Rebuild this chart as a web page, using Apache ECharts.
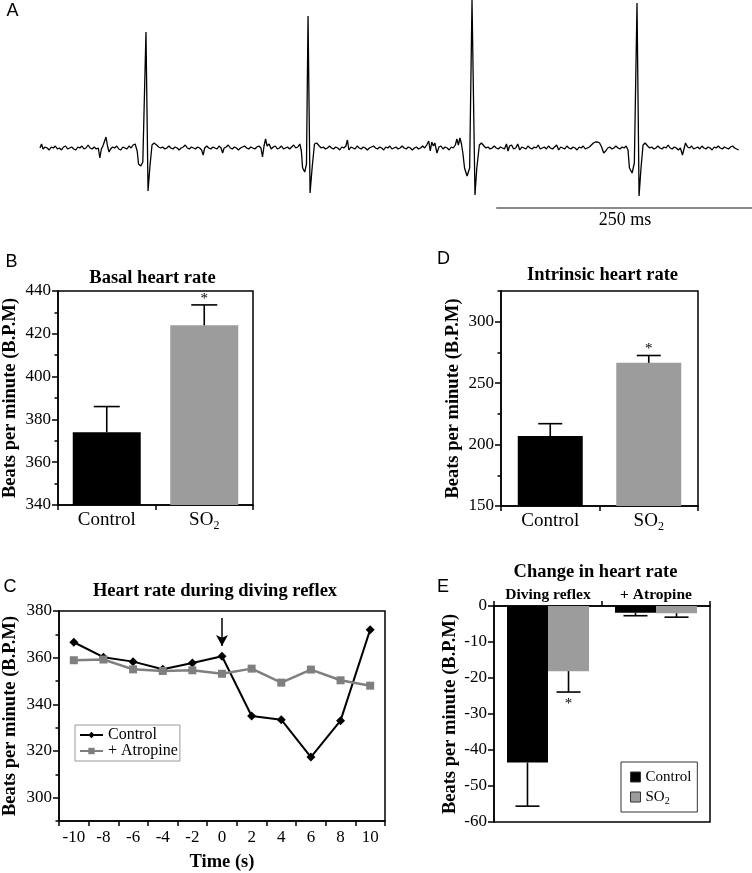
<!DOCTYPE html>
<html>
<head>
<meta charset="utf-8">
<script src="https://cdn.jsdelivr.net/npm/echarts@6.0.0/dist/echarts.min.js"></script>
<style>
html,body{margin:0;padding:0;background:#fff;}
#chart{width:752px;height:873px;}
</style>
</head>
<body>
<div id="chart"></div>
<script>
// ---------- DATA ----------
// Panel A: ECG trace, [time (ms), amplitude (a.u.)]
const ecgTrace = [
[0,0],[1.5,4],[3,-1],[5,1],[7,0],[9,-2],[11,1],[13,0],[15,2],[17,-1],[19,0],[21,-2],[23,1],[25,2],[27,-1],[29,0],[31,1],[33,-1],[35,-2],[37,1],[39,0],[41,2],[43,-1],[45,0],[47,3],[49,0],[51,-1],[53,1],[55,-1],[57,0],[58.5,-10],[60,-1],[61.5,2],[63,1],[64.5,11],[66,2],[67.5,-4],[69,-1],[71,1],[73,0],[75,2],[77,-1],[79,-2],[81,1],[83,0],[85,-1],[87,2],[89,0],[91,3],[93,4],
[95,-3],[96.3,-16],[98.5,-18],[100.5,-14],[103.6,116],[105.6,-43],[107.5,-18],[109.5,3],[111.5,5],[114,3],[116,1],
[118,0],[120,1],[122,-1],[124,0],[126,2],[128,0],[130,-1],[132,1],[134,0],[136,-2],[138,0],[140,1],[142,3],[144,0],[146,-1],[148,1],[150,0],[152,-1],[154,1],[156,0],[158,-2],[159.5,-7],[161,0],[163,2],[165,0],[167,-1],[169,1],[171,0],[173,-1],[175,2],[177,0],[178.5,-5],[180,0],[182,1],[184,3],[186,0],[188,-1],[190,1],[192,0],[194,-2],[196,0],[198,1],[200,2],[202,0],[204,-1],[206,1],[208,0],[210,-1],[212,1],[214,2],[216,0],[217.5,-9],[219,2],[220.5,9],[222,2],[224,4],[226,-1],[228,1],[230,2],[232,-1],[234,0],[236,2],[238,-1],[240,0],[242,1],[244,-1],[246,1],[248,3],[250,0],[252,1],[254,4],
[255.5,-3],[256.7,-20],[258.8,-24],[260.5,-16],[262,132],[264,-45],[266,-20],[268.3,4],[270.5,5],[273,2],[275,0],
[277,1],[279,-1],[281,0],[283,2],[285,0],[287,-1],[289,1],[291,0],[293,-2],[295,1],[297,0],[299,2],[300.5,8],[302,-2],[304,1],[306,0],[308,-1],[310,2],[312,0],[314,-1],[316,1],[318,0],[320,-2],[322,0],[324,1],[326,2],[328,0],[330,-1],[332,1],[334,0],[336,-2],[338,1],[340,0],[342,2],[344,-1],[346,0],[348,1],[350,-1],[352,0],[354,2],[356,0],[358,-1],[360,1],[362,0],[364,-2],[366,0],[368,1],[370,-1],[372,0],[374,2],[376,0],[378,3],[380,7],[381.5,-3],[383,6],[384.5,2],[386,5],[388,-5],[390,1],[392,2],[394,-1],[396,1],[398,0],[400,-2],[402,1],[404,0],[406,3],[407.5,9],[409,3],[410.5,10],[412,4],
[413.5,-6],[415,-20],[417.5,-28],[420,-20],[422.3,148],[425.2,-47],[427,-20],[429.5,3],[431.5,5],[434,2],[436,0],
[438,1],[440,-1],[442,0],[444,2],[446,0],[448,-1],[450,1],[452,0],[454,-1],[456,4],[457.5,-3],[459,2],[461,3],[463,-1],[465,0],[467,4],[469,-2],[471,1],[473,0],[475,-1],[477,2],[479,0],[481,-1],[483,1],[485,0],[487,3],[489,-1],[491,0],[493,1],[495,-1],[497,2],[499,0],[501,-1],[503,1],[505,3],[507,-2],[509,1],[511,0],[513,-1],[515,2],[517,0],[519,-1],[521,1],[523,0],[525,-2],[527,1],[529,0],[531,2],[533,-1],[535,0],[537,1],[539,3],[541,5],[543,6],[545,6],[547,5],[549,1],[551,-5],[553,-3],[555,0],[557,1],[559,-1],[561,0],[563,2],[565,0],[567,-1],[569,1],[571,0],[573,2],
[574.8,-2],[576.2,-20],[578.8,-25],[581,-15],[583.6,145],[585.6,-48],[587.5,-20],[589.5,3],[591.5,5],[594,2],[596,0],
[598,1],[600,-1],[602,0],[604,2],[606,0],[608,-1],[610,1],[612,0],[614,3],[616,0],[618,-1],[620,1],[622,0],[624,-2],[626,0],[628,-7],[629.5,-1],[631,5],[633,1],[635,0],[637,2],[639,-1],[641,0],[643,1],[645,-1],[647,2],[649,0],[651,-1],[653,1],[655,0],[657,-2],[659,1],[661,0],[663,2],[665,0],[667,-1],[669,1],[671,0],[673,-1],[675,1],[677,2],[679,0],[681,-1],[683,-2]
];
const scaleBarMs = [446, 696];      // 250 ms scale bar
const scaleBarLevel = -60;

// Panel B: basal heart rate
const groups = ['Control', 'SO2'];
const basalMean = [374, 424];
const basalSem = [12, 9.5];
const basalSig = [0, 1];
const basalTicks = [340, 360, 380, 400, 420, 440];

// Panel D: intrinsic heart rate
const intrinsicMean = [207, 266.5];
const intrinsicSem = [10, 6];
const intrinsicSig = [0, 1];
const intrinsicTicks = [150, 200, 250, 300];

// Panel C: heart rate during diving reflex
const times = ['-10', '-8', '-6', '-4', '-2', '0', '2', '4', '6', '8', '10'];
const diveControl = [366.6, 360.2, 358.3, 355, 357.7, 360.6, 335, 333.4, 317.4, 333, 372];
const diveAtropine = [358.9, 359.2, 355, 354.3, 354.6, 353.1, 355.3, 349.3, 354.9, 350.3, 348];
const diveTicks = [300, 320, 340, 360, 380];
const arrowTime = '0', arrowFrom = 377, arrowTo = 365;

// Panel E: change in heart rate
const conditions = ['Diving reflex', '+ Atropine'];
const changeControl = [-43.5, -1.9];
const changeControlSem = [12.1, 0.8];
const changeSO2 = [-18.1, -2.0];
const changeSO2Sem = [5.8, 1.1];
const changeSO2Sig = [1, 0];
const changeTicks = [-60, -50, -40, -30, -20, -10, 0];

// ---------- STYLE HELPERS ----------
const SERIF = '"Liberation Serif", "Times New Roman", serif';
const SANS = '"Liberation Sans", Arial, sans-serif';
const GRAY = '#9c9c9c';
const grayStyle = {color: GRAY};
const chart = echarts.init(document.getElementById('chart'), null, {renderer: 'canvas'});

const subRich = {s: {fontFamily: SERIF, fontSize: 12, lineHeight: 24, verticalAlign: 'bottom', color: '#000'}};
function soFmt(v) { return v === 'SO2' ? 'SO{s|2}' : v; }

function catAxis(grid, data, extra) {
  return Object.assign({
    type: 'category', gridIndex: grid, data: data,
    axisLine: {show: true, onZero: false, lineStyle: {color: '#000', width: 1.5}},
    axisTick: {show: true, length: 5, lineStyle: {color: '#000', width: 1.5}},
    axisLabel: {color: '#000', fontFamily: SERIF, fontSize: 19, margin: 3, lineHeight: 24, interval: 0, formatter: soFmt, rich: subRich},
    splitLine: {show: false}
  }, extra || {});
}
function yMajor(grid, min, max, ticks, gap) {
  return {
    type: 'value', gridIndex: grid, min: min, max: max, position: 'left',
    name: 'Beats per minute (B.P.M)', nameLocation: 'middle', nameGap: gap, nameRotate: 90,
    nameTextStyle: {fontFamily: SERIF, fontWeight: 'bold', fontSize: 18.5, color: '#000'},
    axisLine: {show: true, lineStyle: {color: '#000', width: 1.5}},
    axisTick: {show: true, length: 6, customValues: ticks, lineStyle: {color: '#000', width: 1.5}},
    axisLabel: {customValues: ticks, margin: 7, fontFamily: SERIF, fontSize: 17, color: '#000'},
    splitLine: {show: false}
  };
}
function yMinor(grid, min, max, interval) {
  return {
    type: 'value', gridIndex: grid, min: min, max: max, interval: interval, position: 'left',
    axisLine: {show: false}, axisLabel: {show: false}, splitLine: {show: false},
    axisTick: {show: true, length: 3.5, lineStyle: {color: '#000', width: 1.5}}
  };
}
function errorBars(xi, yi, means, sems, dir, sig, offset, cap, starDy) {
  return {
    type: 'custom', xAxisIndex: xi, yAxisIndex: yi, z: 5, silent: true,
    encode: {x: 0, y: 1},
    data: means.map((m, i) => [i, m, m + dir * sems[i], sig[i]]),
    renderItem: function (params, api) {
      const i = api.value(0), m = api.value(1), e = api.value(2), s = api.value(3);
      const band = api.size([1, 0])[0];
      const b = api.coord([i, m]), t = api.coord([i, e]);
      const cx = b[0] + offset * band;
      const ls = {stroke: '#000', lineWidth: 1.6};
      const children = [
        {type: 'line', shape: {x1: cx, y1: b[1], x2: cx, y2: t[1]}, style: ls},
        {type: 'line', shape: {x1: cx - cap, y1: t[1], x2: cx + cap, y2: t[1]}, style: ls}
      ];
      if (s) children.push({type: 'text', x: cx, y: t[1] + starDy,
        style: {text: '*', font: '15px ' + SERIF, fill: '#000', align: 'center', verticalAlign: 'middle', textAlign: 'center', textVerticalAlign: 'middle'}});
      return {type: 'group', children: children};
    }
  };
}
function label(text, x, y, font) {
  return {type: 'text', x: x, y: y, silent: true,
    style: {text: text, font: font, fill: '#000', align: 'center', verticalAlign: 'middle', textAlign: 'center', textVerticalAlign: 'middle'}};
}
const TITLE_FONT = 'bold 18.5px ' + SERIF;
const LETTER_FONT = '18px ' + SANS;

// ---------- OPTION ----------
const option = {
  backgroundColor: '#fff',
  animation: false,
  grid: [
    {left: 40, top: 0, width: 712, height: 212, show: false},                                   // A
    {left: 56, top: 291, width: 197, height: 214, show: true, borderColor: '#000', borderWidth: 1.5}, // B
    {left: 501, top: 291, width: 197, height: 215, show: true, borderColor: '#000', borderWidth: 1.5},// D
    {left: 57, top: 611, width: 328, height: 211, show: true, borderColor: '#000', borderWidth: 1.5}, // C
    {left: 494, top: 606, width: 216, height: 216, show: true, borderColor: '#000', borderWidth: 1.5} // E
  ],
  xAxis: [
    {type: 'value', gridIndex: 0, min: 0, max: 696, show: false},
    catAxis(1, groups),
    catAxis(2, groups),
    catAxis(3, times, {
      axisLabel: {color: '#000', fontFamily: SERIF, fontSize: 17, margin: 8, interval: 0},
      name: 'Time (s)', nameLocation: 'middle', nameGap: 32,
      nameTextStyle: {fontFamily: SERIF, fontWeight: 'bold', fontSize: 18.5, color: '#000'}
    }),
    catAxis(4, conditions, {
      position: 'top',
      axisLabel: {color: '#000', fontFamily: SERIF, fontSize: 15.5, fontWeight: 'bold', margin: 3, interval: 0}
    })
  ],
  yAxis: [
    {type: 'value', gridIndex: 0, min: -64, max: 148, show: false},
    yMajor(1, 340, 440, basalTicks, 38),
    yMinor(1, 340, 440, 10),
    yMajor(2, 150, 325, intrinsicTicks, 38),
    yMinor(2, 150, 325, 25),
    yMajor(3, 290, 380, diveTicks, 39),
    yMinor(3, 290, 380, 10),
    yMajor(4, -60, 0, changeTicks, 34)
  ],
  legend: [
    {
      data: ['Control', '+ Atropine'], orient: 'vertical', left: 75, top: 725,
      padding: [2, 2, 2, 4], itemGap: 0, itemWidth: 23, itemHeight: 8,
      borderColor: '#999', borderWidth: 1, selectedMode: false,
      textStyle: {fontFamily: SERIF, fontSize: 16, lineHeight: 15.5, color: '#000'}
    },
    {
      data: ['E-Control', 'E-SO2'], orient: 'vertical', left: 621, top: 762,
      padding: [7, 6, 6, 9], itemGap: 3, itemWidth: 10, itemHeight: 10, icon: 'rect',
      borderColor: '#333', borderWidth: 1, selectedMode: false,
      itemStyle: {borderColor: '#333', borderWidth: 1},
      formatter: function (n) { return n === 'E-SO2' ? 'SO{s|2}' : 'Control'; },
      textStyle: {fontFamily: SERIF, fontSize: 15, lineHeight: 16, color: '#000',
        rich: {s: {fontFamily: SERIF, fontSize: 10, lineHeight: 18, verticalAlign: 'bottom', color: '#000'}}}
    }
  ],
  series: [
    // A
    {type: 'line', name: 'ECG', xAxisIndex: 0, yAxisIndex: 0, data: ecgTrace, showSymbol: false,
      lineStyle: {color: '#000', width: 1.3}, silent: true, z: 3},
    {type: 'line', name: 'scale', xAxisIndex: 0, yAxisIndex: 0,
      data: scaleBarMs.map(t => [t, scaleBarLevel]), showSymbol: false,
      lineStyle: {color: '#8a8a8a', width: 2}, silent: true},
    // B
    {type: 'bar', name: 'basal', xAxisIndex: 1, yAxisIndex: 1, barWidth: 68,
      data: basalMean.map((v, i) => ({value: v, itemStyle: i === 0 ? {color: '#000'} : grayStyle}))},
    errorBars(1, 1, basalMean, basalSem, 1, basalSig, 0, 13, -6),
    // D
    {type: 'bar', name: 'intrinsic', xAxisIndex: 2, yAxisIndex: 3, barWidth: 65,
      data: intrinsicMean.map((v, i) => ({value: v, itemStyle: i === 0 ? {color: '#000'} : grayStyle}))},
    errorBars(2, 3, intrinsicMean, intrinsicSem, 1, intrinsicSig, 0, 12, -6),
    // C
    {type: 'line', name: 'Control', xAxisIndex: 3, yAxisIndex: 5, data: diveControl,
      symbol: 'diamond', symbolSize: 9, itemStyle: {color: '#000'}, lineStyle: {color: '#000', width: 2},
      markLine: {silent: true, symbol: ['none', 'arrow'], symbolSize: [9, 11], animation: false,
        lineStyle: {color: '#000', width: 1.5, type: 'solid'}, label: {show: false},
        data: [[{coord: [arrowTime, arrowFrom]}, {coord: [arrowTime, arrowTo]}]]}},
    {type: 'line', name: '+ Atropine', xAxisIndex: 3, yAxisIndex: 5, data: diveAtropine,
      symbol: 'rect', symbolSize: 8, itemStyle: {color: '#7f7f7f'}, lineStyle: {color: '#7f7f7f', width: 2.5}},
    // E
    {type: 'bar', name: 'E-Control', xAxisIndex: 4, yAxisIndex: 7, barWidth: 41, barGap: '0%',
      data: changeControl, itemStyle: {color: '#000'}},
    {type: 'bar', name: 'E-SO2', xAxisIndex: 4, yAxisIndex: 7, barWidth: 41, barGap: '0%',
      data: changeSO2, itemStyle: grayStyle},
    errorBars(4, 7, changeControl, changeControlSem, -1, [0, 0], -0.19, 12, 12),
    errorBars(4, 7, changeSO2, changeSO2Sem, -1, changeSO2Sig, 0.19, 12, 12)
  ],
  graphic: [
    label('A', 12.5, 11.5, LETTER_FONT),
    label('B', 11.5, 262, LETTER_FONT),
    label('C', 10, 587, LETTER_FONT),
    label('D', 443.5, 259, LETTER_FONT),
    label('E', 443, 587.5, LETTER_FONT),
    label('Basal heart rate', 152.5, 278, TITLE_FONT),
    label('Intrinsic heart rate', 602.5, 275, TITLE_FONT),
    label('Heart rate during diving reflex', 215, 591, TITLE_FONT),
    label('Change in heart rate', 595.5, 572, TITLE_FONT),
    label('250 ms', 625, 220, '18px ' + SERIF)
  ]
};
chart.setOption(option);
</script>
</body>
</html>
